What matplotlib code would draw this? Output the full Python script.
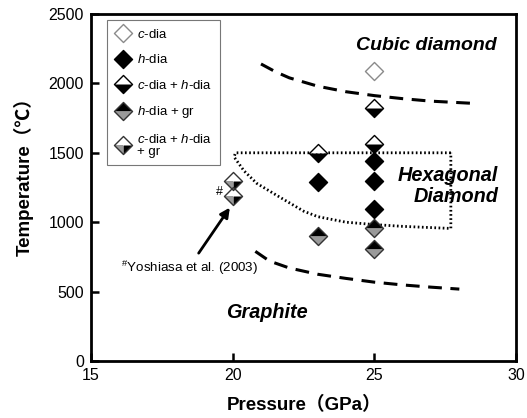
import matplotlib
matplotlib.use("Agg")
import matplotlib.pyplot as plt
from matplotlib.path import Path
from matplotlib.legend_handler import HandlerTuple

plt.rcParams['font.family'] = ['Liberation Sans', 'Noto Sans CJK JP', 'DejaVu Sans']
plt.rcParams['mathtext.fontset'] = 'custom'
plt.rcParams['mathtext.rm'] = 'Liberation Sans'
plt.rcParams['mathtext.it'] = 'Liberation Sans:italic'
plt.rcParams['mathtext.bf'] = 'Liberation Sans:bold'

# ---- data ----
c_dia_P = [25]
c_dia_T = [2090]
h_dia_P = [23, 25, 25, 25]
h_dia_T = [1290, 1440, 1295, 1095]
ch_dia_P = [23, 25, 25]
ch_dia_T = [1500, 1820, 1565]
h_gr_P = [23, 25, 25]
h_gr_T = [900, 955, 810]
chgr_P = [20, 20]
chgr_T = [1300, 1190]

upper_P = [21.0, 21.5, 22.0, 23.0, 24.0, 25.0, 26.0, 27.0, 28.6]
upper_T = [2140, 2085, 2040, 1980, 1940, 1912, 1890, 1872, 1855]
lower_P = [20.8, 21.3, 22.0, 23.0, 24.0, 25.0, 26.0, 27.0, 28.0]
lower_T = [790, 720, 670, 625, 595, 568, 548, 532, 518]
hex_P = [27.7, 20.1, 20.05, 20.4, 20.85, 21.5, 22.0, 22.5, 23.0, 24.0, 25.0, 26.0, 27.7, 27.7]
hex_T = [1500, 1500, 1470, 1370, 1280, 1200, 1140, 1080, 1040, 1000, 983, 970, 955, 1500]

legend_labels = ["$c$-dia", "$h$-dia", "$c$-dia + $h$-dia", "$h$-dia + gr", "$c$-dia + $h$-dia\n+ gr"]

# ---- marker shapes ----
def mk(verts):
    v = list(verts) + [verts[0]]
    codes = [Path.MOVETO] + [Path.LINETO] * (len(verts) - 1) + [Path.CLOSEPOLY]
    return Path(v, codes)

FULL = mk([(0, 1), (1, 0), (0, -1), (-1, 0)])
TOP = mk([(-1, 0), (0, 1), (1, 0)])
BOT = mk([(-1, 0), (1, 0), (0, -1)])
LL = mk([(-1, 0), (0, 0), (0, -1)])
LR = mk([(0, 0), (1, 0), (0, -1)])

GRAY = '#9a9a9a'
MS = 13

styles = [
    [(FULL, 'white', '#8a8a8a')],
    [(FULL, 'black', 'black')],
    [(TOP, 'white', None), (BOT, 'black', None), (FULL, 'none', 'black')],
    [(TOP, 'black', None), (BOT, GRAY, None), (FULL, 'none', '#333333')],
    [(TOP, 'white', None), (LL, GRAY, None), (LR, 'black', None), (FULL, 'none', '#333333')],
]

fig = plt.figure(figsize=(5.27, 4.18), dpi=100)
ax = fig.add_axes([91 / 527, 1 - 361 / 418, 425 / 527, 347 / 418])

# lines
ax.plot(upper_P, upper_T, color='black', lw=2.2, dashes=(4.5, 2.8))
ax.plot(lower_P, lower_T, color='black', lw=2.2, dashes=(4.5, 2.8))
ax.plot(hex_P, hex_T, color='black', lw=2.0, linestyle=(0, (0.6, 0.9)))

def draw(P, T, layers):
    hs = []
    for path, fc, ec in layers:
        if ec is None:
            h, = ax.plot(P, T, linestyle='none', marker=path, markersize=MS,
                         markerfacecolor=fc, markeredgewidth=0, zorder=5)
        else:
            h, = ax.plot(P, T, linestyle='none', marker=path, markersize=MS,
                         markerfacecolor=fc, markeredgecolor=ec, markeredgewidth=1.0, zorder=6)
        hs.append(h)
    return tuple(hs)

handles = []
for (P, T), layers in zip([(c_dia_P, c_dia_T), (h_dia_P, h_dia_T), (ch_dia_P, ch_dia_T),
                            (h_gr_P, h_gr_T), (chgr_P, chgr_T)], styles):
    handles.append(draw(P, T, layers))

leg = ax.legend(handles, legend_labels, handler_map={tuple: HandlerTuple(ndivide=1)},
                loc='upper left', bbox_to_anchor=(0.037, 0.983), borderaxespad=0,
                fontsize=9.5, frameon=True, fancybox=False, edgecolor='#555555',
                labelspacing=0.95, handlelength=1.2, handletextpad=0.5, borderpad=0.6)
leg.get_frame().set_linewidth(0.8)
for t in leg.get_texts():
    t.set_linespacing(0.95)

# text
ax.text(29.33, 2273, "Cubic diamond", fontsize=14, fontweight='bold', fontstyle='italic',
        ha='right', va='center')
ax.text(29.37, 1262, "Hexagonal\nDiamond", fontsize=14.3, fontweight='bold', fontstyle='italic',
        ha='right', va='center', linespacing=1.15)
ax.text(21.2, 347, "Graphite", fontsize=14.3, fontweight='bold', fontstyle='italic',
        ha='center', va='center')
ax.text(20.9, 669, r"$^{\#}$Yoshiasa et al. (2003)", fontsize=9.6, ha='right', va='center')
ax.text(19.55, 1216, "#", fontsize=9, ha='center', va='center')
ax.annotate('', xy=(19.9, 1105), xytext=(18.8, 777),
            arrowprops=dict(arrowstyle='-|>', lw=2, color='black', mutation_scale=14,
                            shrinkA=0, shrinkB=0))

ax.set_xlim(15, 30)
ax.set_ylim(0, 2500)
ax.set_xticks([15, 20, 25, 30])
ax.set_yticks([0, 500, 1000, 1500, 2000, 2500])
ax.tick_params(direction='in', length=6, width=1.8, labelsize=11.5, pad=5)
for s in ax.spines.values():
    s.set_linewidth(2)
ax.set_xlabel("Pressure（GPa）", fontsize=13.5, fontweight='bold')
ax.set_ylabel("Temperature（℃）", fontsize=13.5, fontweight='bold')
ax.xaxis.set_label_coords(0.502, -0.1)
ax.yaxis.set_label_coords(-0.135, 0.545)

fig.savefig("out.png", dpi=100)
